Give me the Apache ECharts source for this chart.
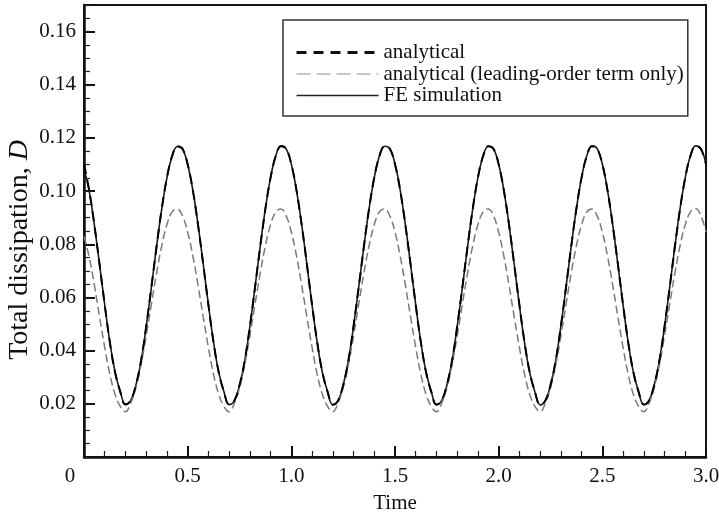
<!DOCTYPE html>
<html>
<head>
<meta charset="utf-8">
<script src="https://cdn.jsdelivr.net/npm/echarts@6/dist/echarts.min.js"></script>
<style>
html,body{margin:0;padding:0;background:#fff;}
#chart{width:719px;height:514px;}
</style>
</head>
<body>
<div id="chart"></div>
<script>
// Time samples (x)
const time = [
0,0.025,0.05,0.075,0.1,0.125,0.15,0.175,0.2,0.225,0.25,0.275,0.3,0.325,0.35,0.375,0.4,0.425,0.45,0.475,
0.5,0.525,0.55,0.575,0.6,0.625,0.65,0.675,0.7,0.725,0.75,0.775,0.8,0.825,0.85,0.875,0.9,0.925,0.95,0.975,
1.0,1.025,1.05,1.075,1.1,1.125,1.15,1.175,1.2,1.225,1.25,1.275,1.3,1.325,1.35,1.375,1.4,1.425,1.45,1.475,
1.5,1.525,1.55,1.575,1.6,1.625,1.65,1.675,1.7,1.725,1.75,1.775,1.8,1.825,1.85,1.875,1.9,1.925,1.95,1.975,
2.0,2.025,2.05,2.075,2.1,2.125,2.15,2.175,2.2,2.225,2.25,2.275,2.3,2.325,2.35,2.375,2.4,2.425,2.45,2.475,
2.5,2.525,2.55,2.575,2.6,2.625,2.65,2.675,2.7,2.725,2.75,2.775,2.8,2.825,2.85,2.875,2.9,2.925,2.95,2.975,
3.0
];

// analytical
const analytical = [
0.1101,0.1003,0.0873,0.0725,0.0572,0.0430,0.0318,0.0245,0.0197,0.0212,0.0270,0.0361,0.0491,0.0639,0.0792,0.0934,0.1051,0.1132,0.1169,0.1159,
0.1101,0.1003,0.0873,0.0725,0.0572,0.0430,0.0318,0.0245,0.0197,0.0212,0.0270,0.0361,0.0491,0.0639,0.0792,0.0934,0.1051,0.1132,0.1169,0.1159,
0.1101,0.1003,0.0873,0.0725,0.0572,0.0430,0.0318,0.0245,0.0197,0.0212,0.0270,0.0361,0.0491,0.0639,0.0792,0.0934,0.1051,0.1132,0.1169,0.1159,
0.1101,0.1003,0.0873,0.0725,0.0572,0.0430,0.0318,0.0245,0.0197,0.0212,0.0270,0.0361,0.0491,0.0639,0.0792,0.0934,0.1051,0.1132,0.1169,0.1159,
0.1101,0.1003,0.0873,0.0725,0.0572,0.0430,0.0318,0.0245,0.0197,0.0212,0.0270,0.0361,0.0491,0.0639,0.0792,0.0934,0.1051,0.1132,0.1169,0.1159,
0.1101,0.1003,0.0873,0.0725,0.0572,0.0430,0.0318,0.0245,0.0197,0.0212,0.0270,0.0361,0.0491,0.0639,0.0792,0.0934,0.1051,0.1132,0.1169,0.1159,
0.1101
];

// analytical (leading-order term only)
const leadingOrder = [
0.0830,0.0752,0.0646,0.0527,0.0412,0.0310,0.0235,0.0190,0.0170,0.0202,0.0260,0.0346,0.0456,0.0575,0.0692,0.0795,0.0874,0.0922,0.0933,0.0907,
0.0846,0.0756,0.0646,0.0527,0.0412,0.0310,0.0235,0.0190,0.0170,0.0202,0.0260,0.0346,0.0456,0.0575,0.0692,0.0795,0.0874,0.0922,0.0933,0.0907,
0.0846,0.0756,0.0646,0.0527,0.0412,0.0310,0.0235,0.0190,0.0170,0.0202,0.0260,0.0346,0.0456,0.0575,0.0692,0.0795,0.0874,0.0922,0.0933,0.0907,
0.0846,0.0756,0.0646,0.0527,0.0412,0.0310,0.0235,0.0190,0.0170,0.0202,0.0260,0.0346,0.0456,0.0575,0.0692,0.0795,0.0874,0.0922,0.0933,0.0907,
0.0846,0.0756,0.0646,0.0527,0.0412,0.0310,0.0235,0.0190,0.0170,0.0202,0.0260,0.0346,0.0456,0.0575,0.0692,0.0795,0.0874,0.0922,0.0933,0.0907,
0.0846,0.0756,0.0646,0.0527,0.0412,0.0310,0.0235,0.0190,0.0170,0.0202,0.0260,0.0346,0.0456,0.0575,0.0692,0.0795,0.0874,0.0922,0.0935,0.0909,
0.0846
];

// FE simulation
const feSimulation = [
0.1082,0.1001,0.0872,0.0724,0.0572,0.0431,0.0319,0.0246,0.0198,0.0212,0.0269,0.0360,0.0490,0.0638,0.0791,0.0933,0.1050,0.1131,0.1168,0.1158,
0.1100,0.1003,0.0874,0.0726,0.0573,0.0431,0.0318,0.0245,0.0197,0.0211,0.0269,0.0361,0.0491,0.0640,0.0793,0.0935,0.1052,0.1133,0.1170,0.1159,
0.1101,0.1002,0.0873,0.0725,0.0571,0.0430,0.0317,0.0245,0.0196,0.0211,0.0270,0.0362,0.0492,0.0639,0.0792,0.0934,0.1051,0.1132,0.1169,0.1160,
0.1102,0.1004,0.0874,0.0725,0.0572,0.0430,0.0318,0.0246,0.0197,0.0212,0.0270,0.0361,0.0491,0.0638,0.0791,0.0933,0.1051,0.1132,0.1169,0.1159,
0.1101,0.1003,0.0873,0.0724,0.0571,0.0429,0.0317,0.0244,0.0196,0.0211,0.0270,0.0362,0.0492,0.0640,0.0793,0.0935,0.1052,0.1133,0.1170,0.1160,
0.1102,0.1003,0.0873,0.0725,0.0572,0.0430,0.0318,0.0245,0.0197,0.0212,0.0270,0.0361,0.0491,0.0639,0.0792,0.0934,0.1051,0.1133,0.1170,0.1160,
0.1101
];

const seriesNames = ['analytical', 'analytical (leading-order term only)', 'FE simulation'];
const xTickValues = [0, 0.5, 1.0, 1.5, 2.0, 2.5, 3.0];
const yTickValues = [0.02, 0.04, 0.06, 0.08, 0.10, 0.12, 0.14, 0.16];
const xTitle = 'Time';
const yTitle = 'Total dissipation, ';
const yTitleItalic = 'D';

const FONT = "'Liberation Serif', 'Times New Roman', serif";
const pairs = arr => time.map((t, i) => [t, arr[i]]);
const hiddenSymbol = {opacity: 0, color: 'transparent', borderWidth: 0};

const chart = echarts.init(document.getElementById('chart'), null, {renderer: 'canvas'});
chart.setOption({
  animation: false,
  backgroundColor: '#ffffff',
  grid: {
    left: 84, right: 13, top: 5, bottom: 57,
    outerBoundsMode: 'none', containLabel: false,
    show: true, borderColor: '#151515', borderWidth: 2, backgroundColor: 'transparent'
  },
  graphic: [{
    type: 'text',
    x: 20, y: 250,
    rotation: Math.PI / 2,
    silent: true,
    style: {
      text: yTitle + '{i|' + yTitleItalic + '}',
      fontFamily: FONT, fontSize: 28, fill: '#111',
      align: 'center', verticalAlign: 'middle',
      rich: {i: {fontFamily: FONT, fontSize: 28, fontStyle: 'italic', fill: '#111'}}
    }
  }],
  legend: {
    orient: 'vertical',
    left: 283, top: 20,
    padding: [22, 4, 10, 12],
    itemWidth: 82, itemHeight: 14, itemGap: 0.5,
    borderColor: '#333', borderWidth: 1.5,
    backgroundColor: '#fff',
    textStyle: {fontFamily: FONT, fontSize: 21, color: '#111'},
    itemStyle: hiddenSymbol,
    data: [
      {name: seriesNames[0], itemStyle: hiddenSymbol, lineStyle: {color: '#111', width: 3, type: [10, 7]}},
      {name: seriesNames[1], itemStyle: hiddenSymbol, lineStyle: {color: '#b5b5b5', width: 1.5, type: [14, 6]}},
      {name: seriesNames[2], itemStyle: hiddenSymbol, lineStyle: {color: '#222', width: 1.5, type: 'solid'}}
    ]
  },
  xAxis: {
    type: 'value', min: 0, max: 3.0, interval: 0.5,
    name: xTitle, nameLocation: 'middle', nameGap: 36,
    nameTextStyle: {fontFamily: FONT, fontSize: 21, color: '#111'},
    axisLine: {show: true, onZero: false, lineStyle: {color: '#111', width: 2.5}},
    axisTick: {show: true, inside: true, length: 11, lineStyle: {color: '#111', width: 2}},
    minorTick: {show: true, splitNumber: 5, length: 6, lineStyle: {color: '#222', width: 1.2}},
    splitLine: {show: false},
    axisLabel: {
      margin: 9, fontFamily: FONT, fontSize: 21, color: '#111',
      formatter: v => {
        const hit = xTickValues.find(x => Math.abs(x - v) < 1e-9);
        if (hit === undefined) return '';
        return hit === 0 ? '{z|0}' : hit.toFixed(1);
      },
      rich: {z: {fontFamily: FONT, fontSize: 21, color: '#111', padding: [0, 28, 0, 0]}}
    }
  },
  yAxis: [
    {
      type: 'value', min: 0, max: 0.17, interval: 0.02,
      axisLine: {show: true, onZero: false, lineStyle: {color: '#111', width: 2.5}},
      axisTick: {show: true, inside: true, length: 11, lineStyle: {color: '#111', width: 2}},
      splitLine: {show: false},
      showMinLabel: false, showMaxLabel: false,
      axisLabel: {
        margin: 8, fontFamily: FONT, fontSize: 21, color: '#111',
        formatter: v => {
          const hit = yTickValues.find(y => Math.abs(y - v) < 1e-9);
          return hit === undefined ? '' : hit.toFixed(2);
        }
      }
    },
    {
      type: 'value', min: 0, max: 0.17, interval: 0.005, position: 'left',
      axisLine: {show: false},
      axisTick: {show: true, inside: true, length: 6, lineStyle: {color: '#222', width: 1.2}},
      axisLabel: {show: false},
      splitLine: {show: false}
    }
  ],
  series: [
    {
      name: seriesNames[2], type: 'line', data: pairs(feSimulation),
      symbol: 'none', smooth: 0.4, z: 2,
      lineStyle: {color: '#1a1a1a', width: 1.6, type: 'solid'},
      itemStyle: {color: '#1a1a1a'}
    },
    {
      name: seriesNames[1], type: 'line', data: pairs(leadingOrder),
      symbol: 'none', smooth: 0.4, z: 3,
      lineStyle: {color: '#7a7a7a', width: 1.5, type: [8, 4]},
      itemStyle: {color: '#7a7a7a'}
    },
    {
      name: seriesNames[0], type: 'line', data: pairs(analytical),
      symbol: 'none', smooth: 0.4, z: 4,
      lineStyle: {color: '#000', width: 2, type: [10, 6]},
      itemStyle: {color: '#000'}
    }
  ]
});
</script>
</body>
</html>
